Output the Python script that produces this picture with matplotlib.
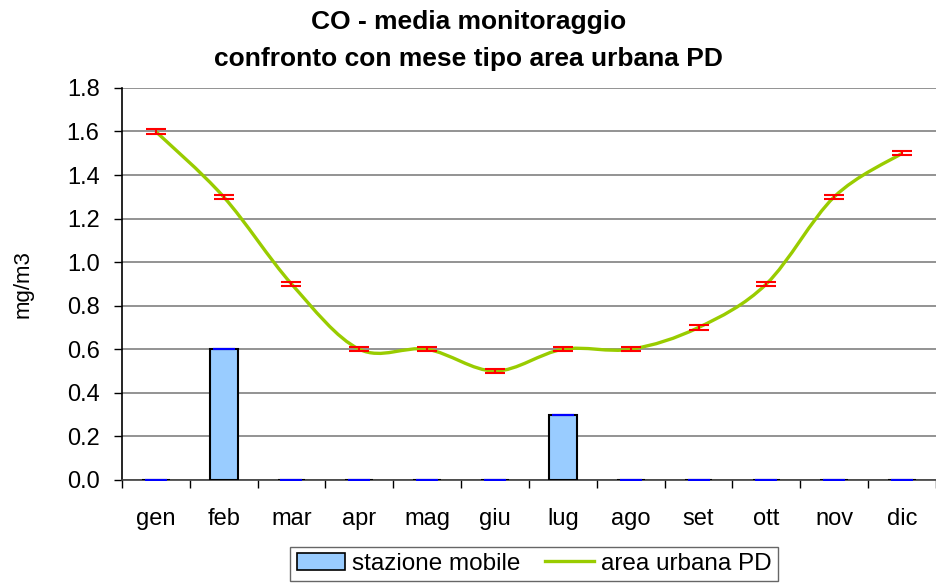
import numpy as np
import matplotlib.pyplot as plt
from matplotlib.path import Path
from matplotlib.patches import PathPatch, Patch
from matplotlib.lines import Line2D

plt.rcParams['font.family'] = ['Liberation Sans', 'DejaVu Sans']

# -------------------------
# Data
# -------------------------
months = ["gen", "feb", "mar", "apr", "mag", "giu", "lug", "ago", "set", "ott", "nov", "dic"]
stazione_mobile = [0, 0.6, 0, 0, 0, 0, 0.3, 0, 0, 0, 0, 0]
area_urbana = [1.6, 1.3, 0.9, 0.6, 0.6, 0.5, 0.6, 0.6, 0.7, 0.9, 1.3, 1.5]
area_err = [0.01] * 12

line_color = "#99CC00"
bar_color = "#99CCFF"


def smooth_path(x, y):
    # Excel-like smoothed line: cubic Bezier segments with Catmull-Rom tangents
    pts = np.column_stack([x, y]).astype(float)
    n = len(pts)
    verts = [pts[0]]
    codes = [Path.MOVETO]
    for i in range(n - 1):
        p0 = pts[i - 1] if i > 0 else pts[i]
        p1 = pts[i]
        p2 = pts[i + 1]
        p3 = pts[i + 2] if i + 2 < n else pts[i + 1]
        c1 = p1 + (p2 - p0) / 6.0
        c2 = p2 - (p3 - p1) / 6.0
        verts += [c1, c2, p2]
        codes += [Path.CURVE4] * 3
    return Path(verts, codes)


fig = plt.figure(figsize=(9.37, 5.86), dpi=100)
ax = fig.add_axes([0.130, 0.181, 0.869, 0.669])

x = np.arange(len(months))

# bars
ax.bar(x, stazione_mobile, width=0.41, color=bar_color, edgecolor="black",
       linewidth=1.5, zorder=3)
ax.errorbar(x, stazione_mobile, yerr=[0] * 12, fmt="none", ecolor="blue",
            capsize=8, capthick=1.5, elinewidth=0, zorder=4)

# smoothed line
patch = PathPatch(smooth_path(x, area_urbana), facecolor="none",
                  edgecolor=line_color, linewidth=2.4, zorder=5)
ax.add_patch(patch)
ax.errorbar(x, area_urbana, yerr=area_err, fmt="none", ecolor="red",
            capsize=7, capthick=1.5, elinewidth=1.5, zorder=6)

# axes styling
ax.set_xlim(-0.5, 11.5)
ax.set_ylim(0, 1.8)
yt = np.arange(0, 1.81, 0.2)
ax.set_yticks(yt)
ax.set_yticklabels([f"{v:.1f}" for v in yt], fontsize=17)
ax.set_xticks(x)
ax.set_xticklabels(months, fontsize=17)
ax.set_xticks(np.arange(-0.5, 11.6, 1), minor=True)
ax.tick_params(axis="x", which="major", length=0, pad=20)
ax.tick_params(axis="x", which="minor", length=6, color="black", width=1)
ax.tick_params(axis="y", length=6, width=1, pad=10)
ax.yaxis.grid(True, color="#808080", linewidth=1.2, zorder=0)
ax.set_axisbelow(True)
for s in ["top", "right"]:
    ax.spines[s].set_visible(False)
ax.spines["left"].set_linewidth(1.2)
ax.spines["bottom"].set_linewidth(1.2)
ax.spines["bottom"].set_color("#404040")

fig.text(0.025, 0.515, "mg/m3", rotation=90, ha="center", va="center", fontsize=16)
fig.text(0.5, 0.963, "CO - media monitoraggio", ha="center", va="center",
         fontsize=19, fontweight="bold")
fig.text(0.5, 0.899, "confronto con mese tipo area urbana PD", ha="center",
         va="center", fontsize=19, fontweight="bold")

handles = [Patch(facecolor=bar_color, edgecolor="black", linewidth=1.2),
           Line2D([0], [0], color=line_color, linewidth=2.4)]
leg = fig.legend(handles, ["stazione mobile", "area urbana PD"], loc="lower center",
                 bbox_to_anchor=(0.570, -0.012), ncol=2, fontsize=17.5, frameon=True,
                 fancybox=False, edgecolor="#404040", handlelength=2.0,
                 handletextpad=0.3, columnspacing=1.0, borderpad=0.25)
leg.get_frame().set_linewidth(1.0)

fig.savefig("out.png", dpi=100)
